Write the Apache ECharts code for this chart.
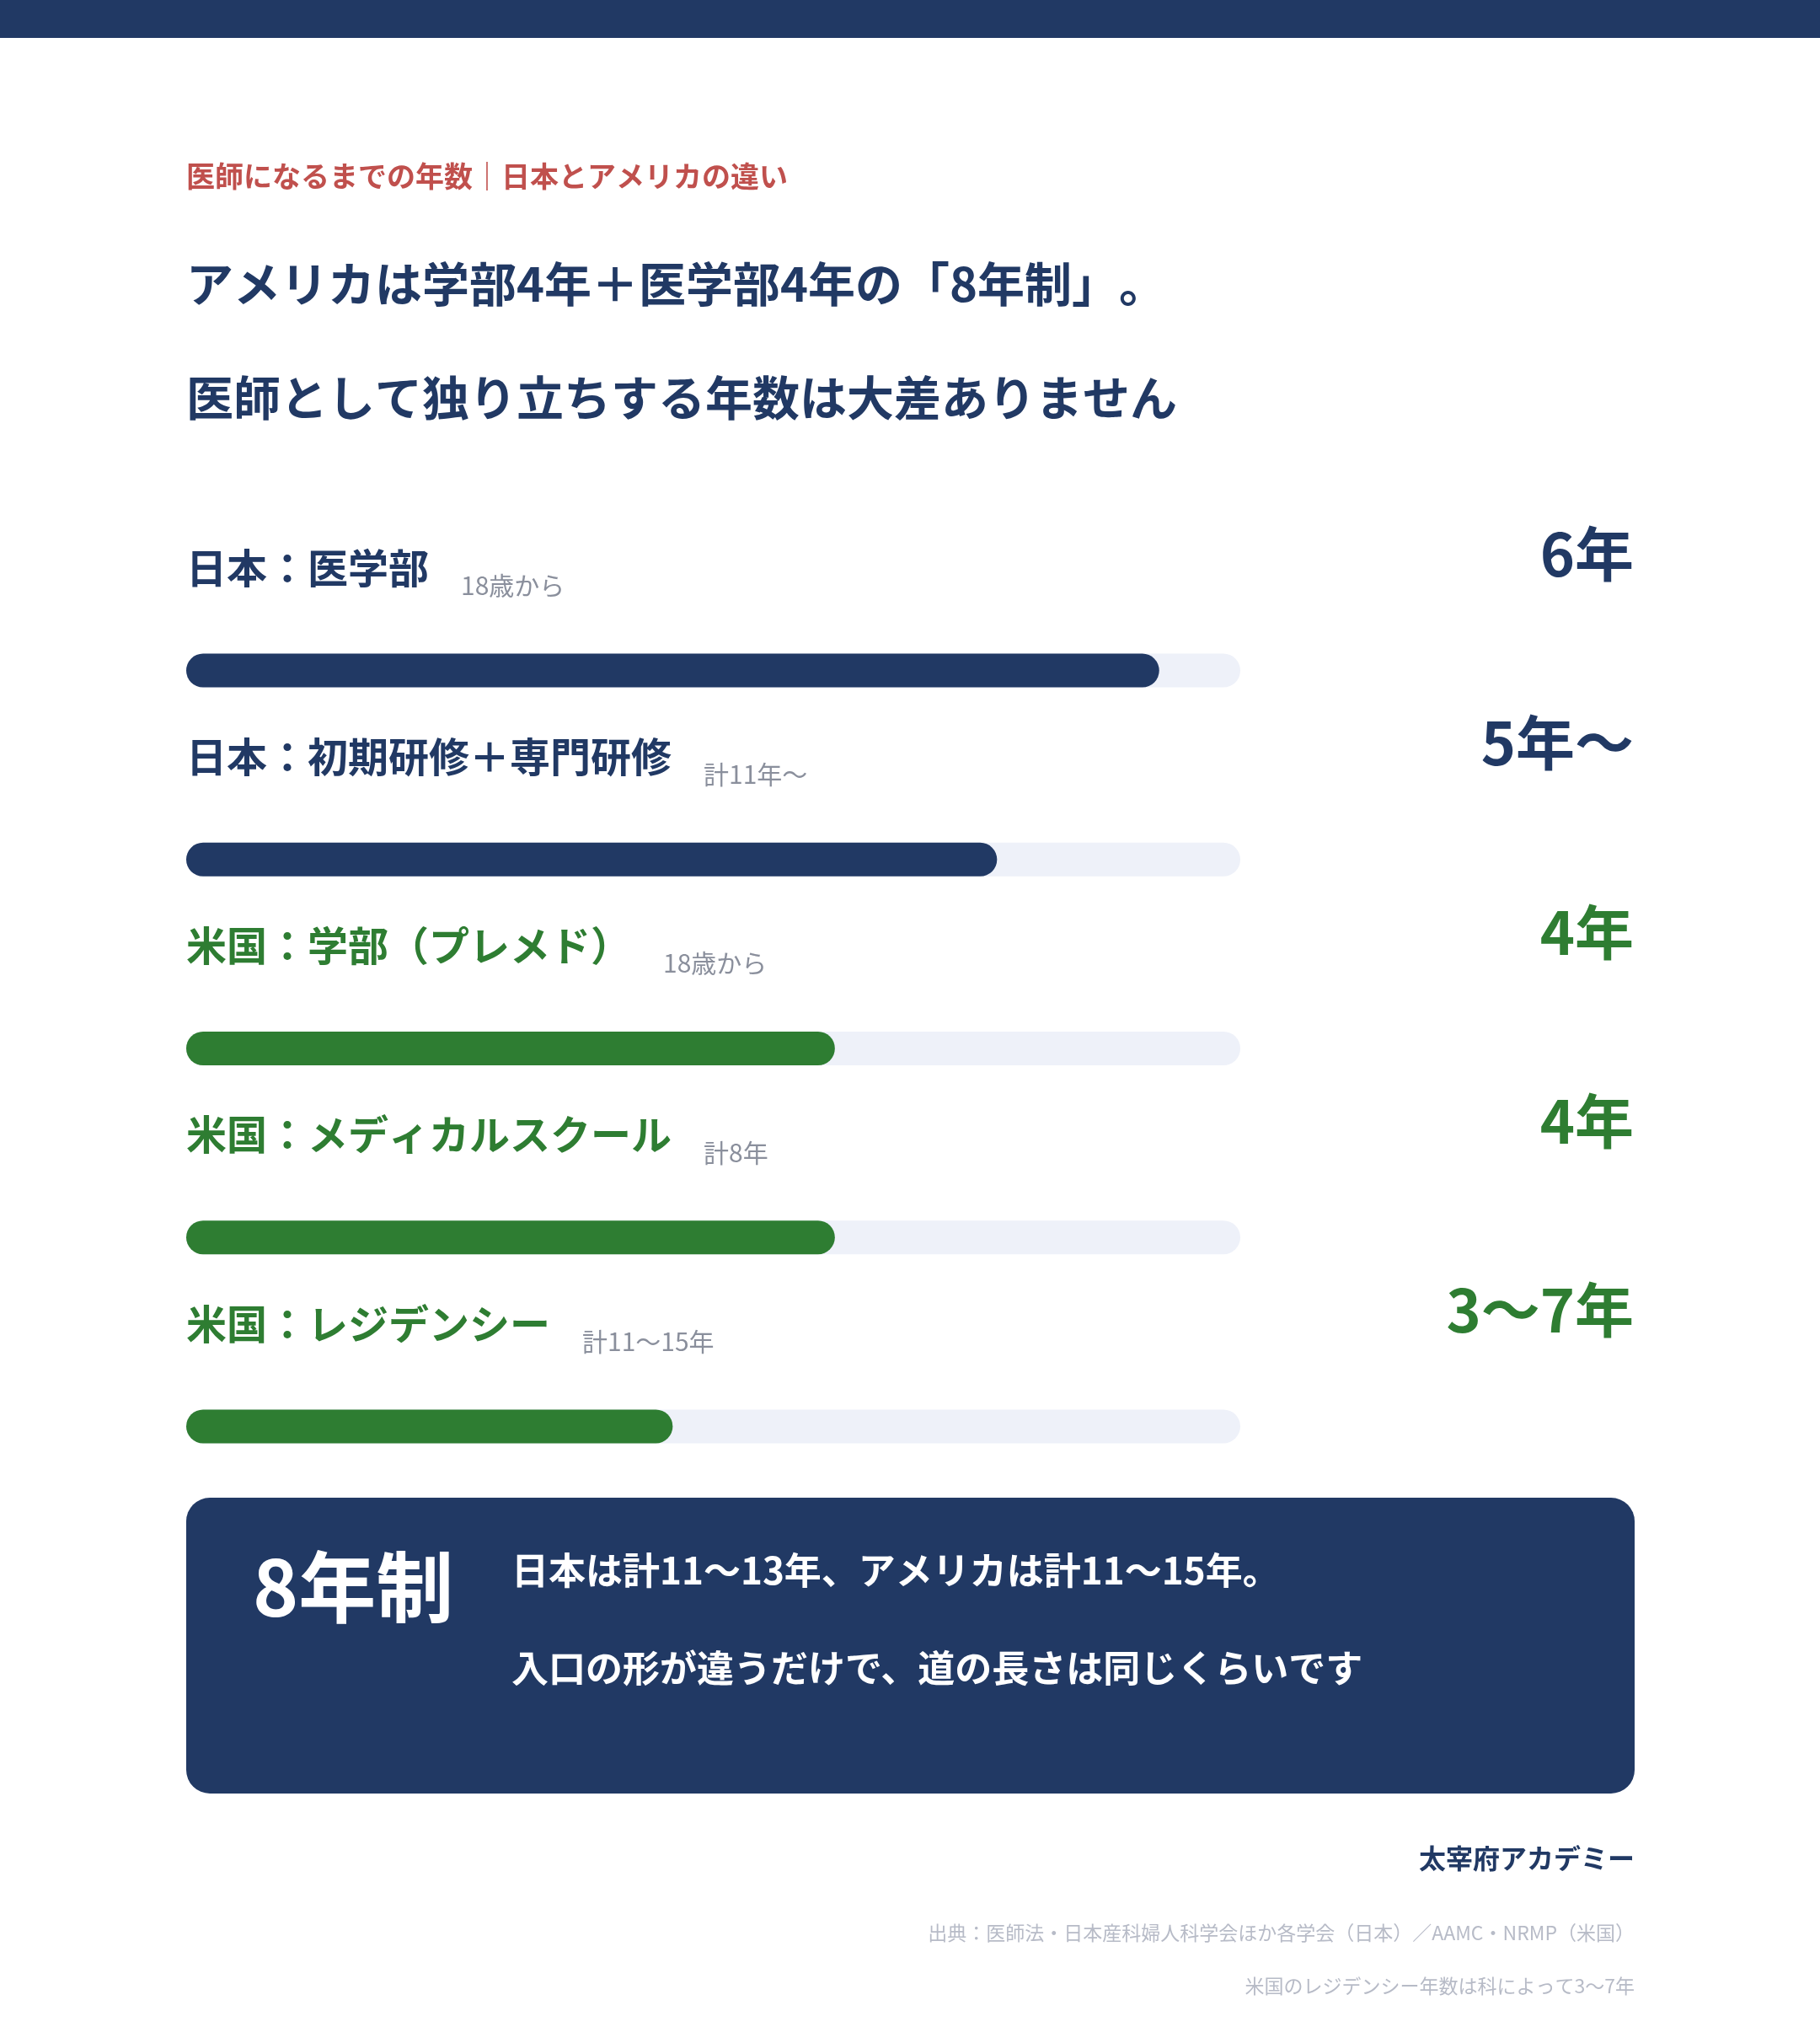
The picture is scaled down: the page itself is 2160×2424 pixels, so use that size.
<!DOCTYPE html>
<html>
<head>
<meta charset="utf-8">
<title>医師になるまでの年数</title>
<script src="https://cdn.jsdelivr.net/npm/echarts@6/dist/echarts.min.js"></script>
<style>
  html, body { margin: 0; padding: 0; background: #ffffff; }
  #container { width: 2160px; height: 2424px; }
</style>
</head>
<body>
<div id="container"></div>
<script>
// 各段階の名称・補足・年数
var stages = ['日本：医学部', '日本：初期研修＋専門研修', '米国：学部（プレメド）', '米国：メディカルスクール', '米国：レジデンシー'];
var notes = ['18歳から', '計11年〜', '18歳から', '計8年', '計11〜15年'];
var years = [6, 5, 4, 4, 3];
var yearLabels = ['6年', '5年〜', '4年', '4年', '3〜7年'];
var countries = ['日本', '日本', '米国', '米国', '米国'];
var xMax = 6.5;

var NAVY = '#213964';
var GREEN = '#2e7d32';
var FONT = '"Noto Sans CJK JP", "Noto Sans", sans-serif';
var countryColor = { '日本': NAVY, '米国': GREEN };

var myChart = echarts.init(document.getElementById('container'));

var option = {
    backgroundColor: '#ffffff',
    animation: false,
    textStyle: { fontFamily: FONT },
    grid: { left: 221, right: 688, top: 683.5, height: 1121 },
    xAxis: { type: 'value', min: 0, max: xMax, show: false },
    yAxis: {
        type: 'category',
        inverse: true,
        data: stages,
        show: false
    },
    series: [
        {
            name: '年数',
            type: 'bar',
            barWidth: 40,
            showBackground: true,
            backgroundStyle: { color: '#eef1f9', borderRadius: 20 },
            label: {
                show: true,
                position: [0, -138],
                fontFamily: FONT,
                formatter: function (p) {
                    return '{a|' + stages[p.dataIndex] + '}{b|' + notes[p.dataIndex] + '}';
                },
                rich: {
                    a: { fontSize: 48, fontWeight: 'bold', lineHeight: 72, fontFamily: FONT },
                    b: { fontSize: 30, color: '#8a8f9c', lineHeight: 30, padding: [0, 0, 0, 38], verticalAlign: 'bottom', fontFamily: FONT }
                }
            },
            data: years.map(function (v, i) {
                var c = countryColor[countries[i]];
                return { value: v, itemStyle: { color: c, borderRadius: 20 }, label: { color: c } };
            })
        },
        {
            name: '年数表示',
            type: 'bar',
            barWidth: 40,
            barGap: '-100%',
            silent: true,
            itemStyle: { color: 'rgba(0,0,0,0)' },
            label: {
                show: true,
                position: ['100%', -118],
                offset: [467, 0],
                align: 'right',
                verticalAlign: 'middle',
                fontSize: 70,
                fontWeight: 'bold',
                fontFamily: FONT,
                formatter: function (p) { return yearLabels[p.dataIndex]; }
            },
            data: stages.map(function (s, i) {
                return { value: xMax, label: { color: countryColor[countries[i]] } };
            })
        }
    ],
    graphic: [
        { type: 'rect', shape: { x: 0, y: 0, width: 2160, height: 45 }, style: { fill: NAVY } },
        { type: 'text', x: 221, y: 209, style: { text: '医師になるまでの年数｜日本とアメリカの違い', fill: '#c0504d', font: 'bold 34px ' + FONT, verticalAlign: 'middle' } },
        { type: 'text', x: 221, y: 337, style: { text: 'アメリカは学部4年＋医学部4年の「8年制」\u200B。', fill: NAVY, font: 'bold 56px ' + FONT, verticalAlign: 'middle' } },
        { type: 'text', x: 221, y: 472, style: { text: '医師として独り立ちする年数は大差ありません', fill: NAVY, font: 'bold 56px ' + FONT, verticalAlign: 'middle' } },
        { type: 'rect', shape: { x: 221, y: 1777, width: 1719, height: 351, r: 28 }, style: { fill: NAVY } },
        { type: 'text', x: 300, y: 1883, style: { text: '8年制', fill: '#ffffff', font: 'bold 92px ' + FONT, verticalAlign: 'middle' } },
        { type: 'text', x: 607, y: 1863, style: { text: '日本は計11〜13年、アメリカは計11〜15年。', fill: '#ffffff', font: 'bold 44px ' + FONT, verticalAlign: 'middle' } },
        { type: 'text', x: 607, y: 1979, style: { text: '入口の形が違うだけで、道の長さは同じくらいです', fill: '#ffffff', font: 'bold 44px ' + FONT, verticalAlign: 'middle' } },
        { type: 'text', x: 1940, y: 2205, style: { text: '太宰府アカデミー', fill: NAVY, font: 'bold 32px ' + FONT, align: 'right', verticalAlign: 'middle' } },
        { type: 'text', x: 1940, y: 2293, style: { text: '出典：医師法・日本産科婦人科学会ほか各学会（日本）／AAMC・NRMP（米国）', fill: '#b7bbc7', font: '23px ' + FONT, align: 'right', verticalAlign: 'middle' } },
        { type: 'text', x: 1940, y: 2356, style: { text: '米国のレジデンシー年数は科によって3〜7年', fill: '#b7bbc7', font: '23px ' + FONT, align: 'right', verticalAlign: 'middle' } }
    ]
};
myChart.setOption(option);
</script>
</body>
</html>
